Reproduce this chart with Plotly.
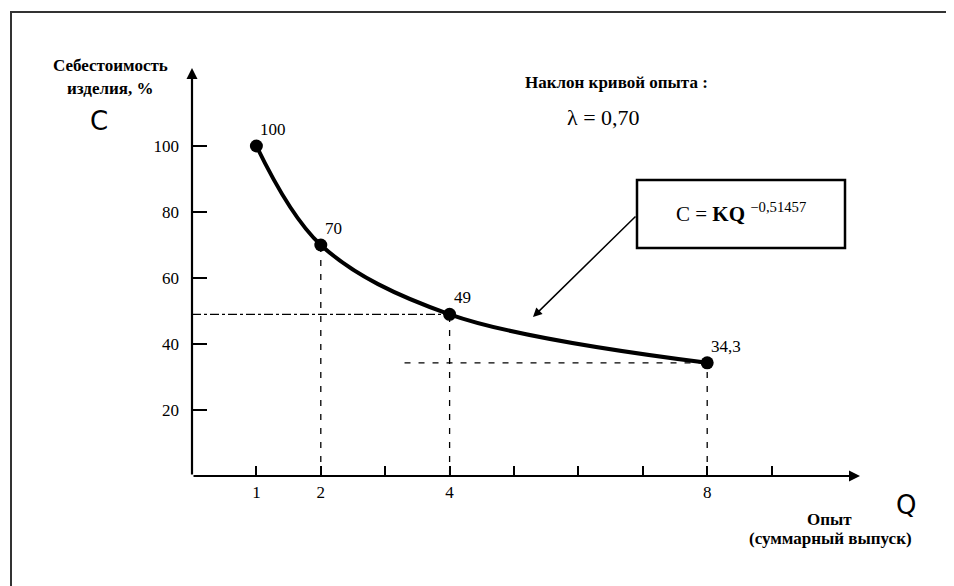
import plotly.graph_objects as go

# Learning curve: cost per unit vs cumulative output
q_values = [1, 2, 4, 8]
cost_values = [100, 70, 49, 34.3]
point_labels = ['100', '70', '49', '34,3']

x_ticks = [1, 2, 3, 4, 5, 6, 7, 8, 9]
x_tick_text = ['1', '2', '', '4', '', '', '', '8', '']
y_ticks = [20, 40, 60, 80, 100]
y_tick_text = ['20', '40', '60', '80', '100']

OFF = 8  # page body margin
W, H = 954 - OFF, 586 - OFF
X0, Y0 = 192, 476          # axis origin on screen
X_TIP, Y_TIP = 860, 68     # arrow tips on screen
L, T = X0 - OFF, Y_TIP - OFF
R, B = W - (X_TIP - OFF), H - (Y0 - OFF)
X_MAX = (X_TIP - X0) / 64.4
Y_MAX = (Y0 - Y_TIP) / 3.3
SERIF = 'Liberation Serif'


def px(x):
    return (x - X0) / (X_TIP - X0)


def py(y):
    return (Y0 - y) / (Y0 - Y_TIP)


def dx(x):
    return (x - X0) / 64.4


def dy(y):
    return (Y0 - y) / 3.3


fig = go.Figure()

# dashed guide lines to the axes
guide = dict(color='black', width=1.3, dash='6px,8px')
fig.add_trace(go.Scatter(x=[0, q_values[2]], y=[cost_values[2]] * 2, mode='lines',
                         line=dict(color='black', width=1.3, dash='dashdot')))
fig.add_trace(go.Scatter(x=[q_values[1]] * 2, y=[0, cost_values[1]], mode='lines', line=guide))
fig.add_trace(go.Scatter(x=[q_values[2]] * 2, y=[0, cost_values[2]], mode='lines', line=guide))
fig.add_trace(go.Scatter(x=[3.3, q_values[3]], y=[cost_values[3]] * 2, mode='lines', line=guide))
fig.add_trace(go.Scatter(x=[q_values[3]] * 2, y=[0, cost_values[3]], mode='lines', line=guide))

# the curve itself
fig.add_trace(go.Scatter(
    x=q_values, y=cost_values, mode='lines+markers',
    line=dict(color='black', width=4, shape='spline', smoothing=1),
    marker=dict(color='black', size=13),
))

for q, c, lab in zip(q_values, cost_values, point_labels):
    fig.add_annotation(x=q, y=c, text=lab, showarrow=False, xanchor='left', yanchor='bottom',
                       xshift=2, yshift=5, font=dict(family=SERIF, size=17, color='black'))

# axes drawn as arrows
fig.add_annotation(x=X_MAX, y=0, ax=0, ay=0, axref='x', ayref='y', text='', showarrow=True,
                   arrowhead=2, arrowsize=1, arrowwidth=2.2, arrowcolor='black')
fig.add_annotation(x=0, y=Y_MAX, ax=0, ay=0, axref='x', ayref='y', text='', showarrow=True,
                   arrowhead=2, arrowsize=1, arrowwidth=2.2, arrowcolor='black')

# formula box with pointer to the curve
fig.add_shape(type='rect', xref='paper', yref='paper', x0=px(637), x1=px(845), y0=py(248), y1=py(180),
              line=dict(color='black', width=2.5), fillcolor='white')
fig.add_annotation(x=dx(533), y=dy(317), ax=dx(637), ay=dy(215),
                   axref='x', ayref='y', text='', showarrow=True, arrowhead=2, arrowsize=1.2,
                   arrowwidth=1.5, arrowcolor='black')


def label(x, y, text, size=17, family=SERIF):
    fig.add_annotation(xref='paper', yref='paper', x=px(x), y=py(y), showarrow=False,
                       xanchor='center', yanchor='middle', text=text,
                       font=dict(family=family, size=size, color='black'))


label(741, 213, 'C = <b>KQ</b> <sup>−0,51457</sup>', size=21)
label(616, 82, '<b>Наклон кривой опыта :</b>')
label(603, 117, 'λ = 0,70', size=22)
label(110, 65, '<b>Себестоимость</b>')
label(110, 88, '<b>изделия, %</b>')
label(99, 121, 'C', size=26, family='DejaVu Sans')
label(829, 519, '<b>Опыт</b>')
label(830, 538, '<b>(суммарный выпуск)</b>')
label(906, 505, 'Q', size=26, family='DejaVu Sans')

# page frame (top and left edges)
frame = dict(color='#333', width=2)
fig.add_shape(type='line', xref='paper', yref='paper', x0=px(10), x1=px(954), y0=py(12), y1=py(12), line=frame)
fig.add_shape(type='line', xref='paper', yref='paper', x0=px(11), x1=px(11), y0=py(12), y1=py(586), line=frame)

fig.update_layout(
    width=W, height=H,
    margin=dict(l=L, r=R, t=T, b=B),
    plot_bgcolor='white', paper_bgcolor='white',
    showlegend=False,
    font=dict(family=SERIF, size=17, color='black'),
    xaxis=dict(range=[0, X_MAX], showgrid=False, zeroline=False, showline=False,
               tickmode='array', tickvals=x_ticks, ticktext=x_tick_text,
               ticks='inside', ticklen=10, tickwidth=1.5, tickcolor='black', ticklabelstandoff=4),
    yaxis=dict(range=[0, Y_MAX], showgrid=False, zeroline=False, showline=False,
               tickmode='array', tickvals=y_ticks, ticktext=y_tick_text,
               ticks='inside', ticklen=15, tickwidth=1.5, tickcolor='black', ticklabelstandoff=12),
)

fig.write_html("out.html")
